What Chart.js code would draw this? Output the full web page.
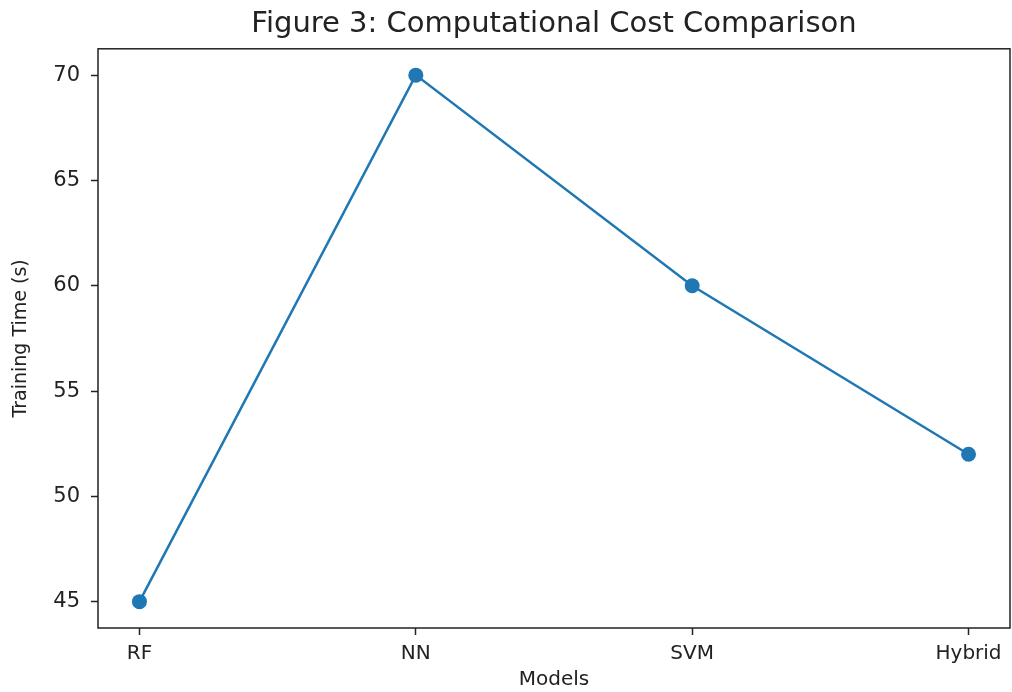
<!DOCTYPE html>
<html>
<head>
<meta charset="utf-8">
<script src="https://cdn.jsdelivr.net/npm/chart.js@4/dist/chart.umd.min.js"></script>
<style>
  html, body { margin: 0; padding: 0; background: #fff; }
  #wrap { width: 1012px; height: 692px; }
</style>
</head>
<body>
<div id="wrap"><canvas id="myChart" width="1012" height="692"></canvas></div>
<script>
// chart data
const models = ['RF', 'NN', 'SVM', 'Hybrid'];
const trainTime = [45, 70, 60, 52];
const yTicks = [45, 50, 55, 60, 65, 70];

const lineColor = '#1f77b4';
const font = 'DejaVu Sans';

// frame around plot area (matplotlib style box)
const boxPlugin = {
    id: 'box',
    afterDraw(chart) {
        const a = chart.chartArea;
        const ctx = chart.ctx;
        ctx.save();
        ctx.strokeStyle = '#222';
        ctx.lineWidth = 1.5;
        ctx.strokeRect(a.left, a.top, a.right - a.left, a.bottom - a.top);
        ctx.restore();
    }
};

const ctx = document.getElementById('myChart').getContext('2d');
new Chart(ctx, {
    type: 'line',
    data: {
        datasets: [{
            data: models.map((m, i) => ({ x: i, y: trainTime[i] })),
            borderColor: lineColor,
            backgroundColor: lineColor,
            borderWidth: 2.5,
            pointRadius: 7.5,
            pointHoverRadius: 7.5,
            pointBorderWidth: 0,
            tension: 0
        }]
    },
    options: {
        responsive: false,
        animation: false,
        layout: { autoPadding: false, padding: { left: 0, right: 2, top: 0, bottom: 0 } },
        plugins: {
            legend: { display: false },
            tooltip: { enabled: false },
            title: {
                display: true,
                fullSize: false,
                text: 'Figure 3: Computational Cost Comparison',
                color: '#222',
                font: { family: font, size: 29, weight: 'normal' },
                padding: { top: 7, bottom: 7 }
            }
        },
        scales: {
            x: {
                type: 'linear',
                min: -0.15,
                max: 3.15,
                afterBuildTicks: (s) => { s.ticks = models.map((m, i) => ({ value: i })); },
                afterFit: (s) => { s.height = 64; },
                ticks: {
                    callback: (v) => models[v],
                    color: '#222',
                    font: { family: font, size: 20 },
                    padding: 7,
                    maxRotation: 0
                },
                grid: { drawOnChartArea: false, tickLength: 7, tickColor: '#222', tickWidth: 1.5 },
                border: { display: false },
                title: {
                    display: true,
                    text: 'Models',
                    color: '#222',
                    font: { family: font, size: 20 },
                    padding: { top: 2, bottom: 0 }
                }
            },
            y: {
                type: 'linear',
                min: 43.75,
                max: 71.25,
                afterBuildTicks: (s) => { s.ticks = yTicks.map(v => ({ value: v })); },
                afterFit: (s) => { s.width = 98; },
                ticks: {
                    color: '#222',
                    font: { family: font, size: 21 },
                    padding: 11
                },
                grid: { drawOnChartArea: false, tickLength: 7, tickColor: '#222', tickWidth: 1.5 },
                border: { display: false },
                title: {
                    display: true,
                    text: 'Training Time (s)',
                    color: '#222',
                    font: { family: font, size: 19 },
                    padding: { top: 10, bottom: 0 }
                }
            }
        }
    },
    plugins: [boxPlugin]
});
</script>
</body>
</html>
